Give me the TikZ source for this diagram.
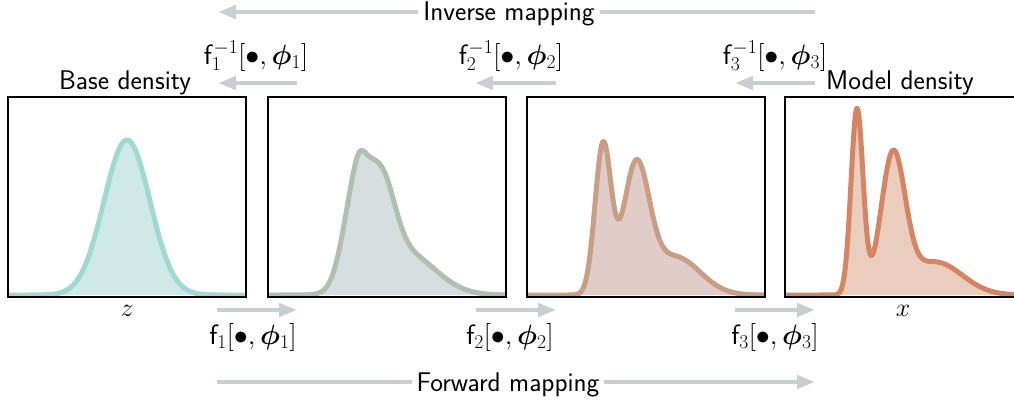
\RequirePackage{fix-cm}
\documentclass[tikz,border=0pt]{standalone}
\usepackage{bm}
\usetikzlibrary{arrows.meta}
\definecolor{arrowgray}{RGB}{200,206,209}
\definecolor{cA}{RGB}{160,217,210}
\definecolor{fA}{RGB}{207,234,230}
\definecolor{cB}{RGB}{176,192,176}
\definecolor{fB}{RGB}{214,222,223}
\definecolor{cC}{RGB}{200,158,132}
\definecolor{fC}{RGB}{224,205,202}
\definecolor{cD}{RGB}{212,134,100}
\definecolor{fD}{RGB}{235,205,190}
\tikzset{
  x=1pt, y=-1pt,
  declare function={g(\x,\m,\s)=exp(-min(0.5*((\x-\m)/\s)^2,40));},
  box/.style={draw=black, line width=2pt, minimum width=238pt, minimum height=200pt, inner sep=0pt},
  flowarrow/.style={draw=arrowgray, line width=4.5pt, -{Triangle[length=18pt,width=13pt]}},
  curve/.style={line width=5pt, line join=round},
  txt/.style={font=\fontsize{27}{32}\selectfont\sffamily, inner sep=0pt},
  mlab/.style={font=\fontsize{28}{34}\selectfont, inner sep=0pt},
  alab/.style={font=\fontsize{26}{30}\selectfont, inner sep=0pt},
}
\begin{document}
\begin{tikzpicture}
\useasboundingbox (0,0) rectangle (1014,402);
\clip (0,0) rectangle (1014,402);

% box 1: base density
\begin{scope}
\clip (8,97) rectangle (246,297);
\fill[fA] (8,295) -- plot[domain=8:246,samples=160] (\x,{295-155*g(\x,127,23)}) -- (246,295) -- cycle;
\draw[curve,cA] plot[domain=8:246,samples=160] (\x,{295-155*g(\x,127,23)});
\end{scope}
\node[box] (b1) at (127,197) {};

% box 2
\begin{scope}
\clip (268,97) rectangle (506,297);
\fill[fB] (268,295) -- plot[domain=268:506,samples=200] (\x,{295-(105*g(\x,357,13)+9*g(\x,359,5)+80*g(\x,382,13)+42*g(\x,405,30))}) -- (506,295) -- cycle;
\draw[curve,cB] plot[domain=268:506,samples=200] (\x,{295-(105*g(\x,357,13)+9*g(\x,359,5)+80*g(\x,382,13)+42*g(\x,405,30))});
\end{scope}
\node[box] (b2) at (387,197) {};

% box 3
\begin{scope}
\clip (526,97) rectangle (765,297);
\fill[fC] (526,295) -- plot[domain=526:765,samples=200] (\x,{295-(148*g(\x,603,8)+124*g(\x,636,13)+38*g(\x,675,25))}) -- (765,295) -- cycle;
\draw[curve,cC] plot[domain=526:765,samples=200] (\x,{295-(148*g(\x,603,8)+124*g(\x,636,13)+38*g(\x,675,25))});
\end{scope}
\node[box] (b3) at (645.5,197) {};

% box 4: model density
\begin{scope}
\clip (785,97) rectangle (1023,297);
\fill[fD] (785,295) -- plot[domain=785:1023,samples=240] (\x,{295-(185*g(\x,857,6)+135*g(\x,893,12)+33*g(\x,935,27))}) -- (1023,295) -- cycle;
\draw[curve,cD] plot[domain=785:1023,samples=240] (\x,{295-(185*g(\x,857,6)+135*g(\x,893,12)+33*g(\x,935,27))});
\end{scope}
\node[box] (b4) at (904,197) {};

% titles and axis labels
\node[txt, anchor=base] (base) at (125,89) {Base density};
\node[txt, anchor=base] (model) at (900,89) {Model density};
\node[alab] (zl) at (127,311) {$z$};
\node[alab] (xl) at (903,311) {$x$};

% inverse mapping (top)
\coordinate (invR) at (815,12);
\coordinate (invL) at (218,12);
\draw[flowarrow] (invR) -- (invL);
\node[txt, fill=white, inner xsep=5pt, inner ysep=1pt, anchor=base] (inv) at (509,20.5) {Inverse mapping};

\coordinate (i1R) at (297,83); \coordinate (i1L) at (218,83);
\coordinate (i2R) at (556,83); \coordinate (i2L) at (475,83);
\coordinate (i3R) at (815,83); \coordinate (i3L) at (735,83);
\draw[flowarrow] (i1R) -- (i1L);
\draw[flowarrow] (i2R) -- (i2L);
\draw[flowarrow] (i3R) -- (i3L);
\node[mlab, anchor=base] (li1) at (256,64) {$\mathsf{f}_1^{-1}[\bullet,\bm{\phi}_1]$};
\node[mlab, anchor=base] (li2) at (511,64) {$\mathsf{f}_2^{-1}[\bullet,\bm{\phi}_2]$};
\node[mlab, anchor=base] (li3) at (775,64) {$\mathsf{f}_3^{-1}[\bullet,\bm{\phi}_3]$};

% forward mapping (bottom)
\coordinate (f1L) at (217,310); \coordinate (f1R) at (297,310);
\coordinate (f2L) at (476,310); \coordinate (f2R) at (556,310);
\coordinate (f3L) at (735,310); \coordinate (f3R) at (815,310);
\draw[flowarrow] (f1L) -- (f1R);
\draw[flowarrow] (f2L) -- (f2R);
\draw[flowarrow] (f3L) -- (f3R);
\node[mlab, anchor=base] (lf1) at (253,344) {$\mathsf{f}_1[\bullet,\bm{\phi}_1]$};
\node[mlab, anchor=base] (lf2) at (510,344) {$\mathsf{f}_2[\bullet,\bm{\phi}_2]$};
\node[mlab, anchor=base] (lf3) at (775,344) {$\mathsf{f}_3[\bullet,\bm{\phi}_3]$};

\coordinate (fwL) at (217,382);
\coordinate (fwR) at (815,382);
\draw[flowarrow] (fwL) -- (fwR);
\node[txt, fill=white, inner xsep=5pt, inner ysep=1pt, anchor=base] (fw) at (508,391) {Forward mapping};
\end{tikzpicture}
\end{document}
